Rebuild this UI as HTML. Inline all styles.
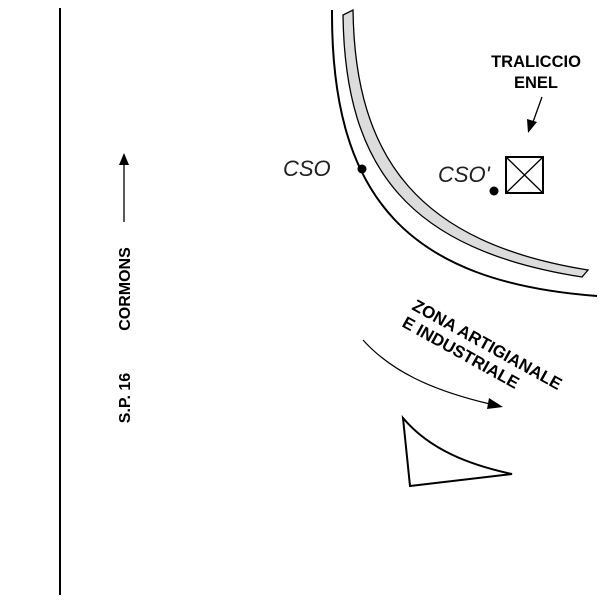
<!DOCTYPE html>
<html><head><style>body{margin:0;background:#fff}</style></head><body>
<svg width="600" height="600" xmlns="http://www.w3.org/2000/svg" font-family="Liberation Sans, sans-serif">
<rect width="600" height="600" fill="#fff"/>
<line x1="60" y1="8" x2="60" y2="595" stroke="#000" stroke-width="2"/>
<path d="M332,10 C331,200 410,282 597,296" fill="none" stroke="#000" stroke-width="2"/>
<path d="M343,15 C345,170 410,250 582,277 L588,270 C420,243 355,160 353,10 Z" fill="#dcdcdc" stroke="#000" stroke-width="1.3"/>
<circle cx="362" cy="169" r="4.5" fill="#000"/>
<circle cx="494" cy="191" r="4.5" fill="#000"/>
<text x="283" y="176" font-size="22" font-style="italic" fill="#222">CSO</text>
<text x="438" y="182" font-size="22" font-style="italic" fill="#222">CSO'</text>
<rect x="506" y="157" width="37" height="36" fill="none" stroke="#000" stroke-width="2"/>
<path d="M506,157 L543,193 M543,157 L506,193" stroke="#000" stroke-width="1.3"/>
<text x="536" y="67" font-size="16.5" font-weight="bold" text-anchor="middle">TRALICCIO</text>
<text x="536" y="88" font-size="16.5" font-weight="bold" text-anchor="middle">ENEL</text>
<line x1="542" y1="97" x2="533" y2="122" stroke="#000" stroke-width="1.3"/>
<polygon points="528,133 527,119 537,122" fill="#000"/>
<g transform="translate(124,0) rotate(-90)">
<text x="-398" y="6" font-size="16" font-weight="bold" text-anchor="middle">S.P. 16</text>
<text x="-289" y="6" font-size="16" font-weight="bold" text-anchor="middle">CORMONS</text>
</g>
<line x1="124" y1="222" x2="124" y2="162" stroke="#000" stroke-width="1.3"/>
<polygon points="124,153 119,165 129,165" fill="#000"/>
<g transform="translate(411,309) rotate(29)"><text x="0" y="0" font-size="17" font-weight="bold">ZONA ARTIGIANALE</text></g>
<g transform="translate(401,326) rotate(29)"><text x="0" y="0" font-size="17" font-weight="bold">E INDUSTRIALE</text></g>
<path d="M363,340 C390,370 430,390 490,404" fill="none" stroke="#000" stroke-width="1.2"/>
<polygon points="503,407 489,398 487,409" fill="#000"/>
<path d="M403,418 L410,486 L512,474 C470,465 430,450 403,418 Z" fill="none" stroke="#000" stroke-width="2"/>
</svg>
</body></html>
